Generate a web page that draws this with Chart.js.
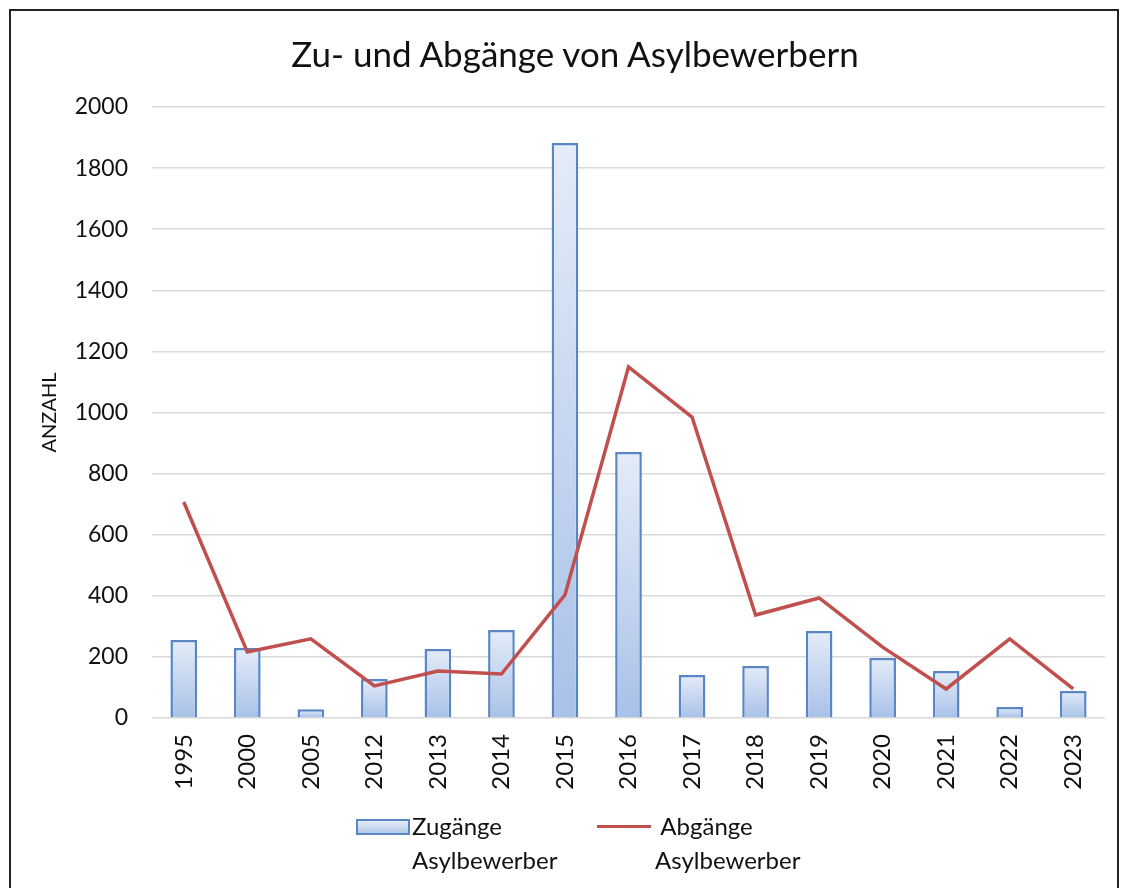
<!DOCTYPE html>
<html>
<head>
<meta charset="utf-8">
<script src="https://cdn.jsdelivr.net/npm/chart.js@4.4.1/dist/chart.umd.min.js"></script>
<style>
  body { margin: 0; background: #fff; font-family: Lato, "Open Sans", sans-serif; }
  #wrap { position: relative; width: 1131px; height: 888px; overflow: hidden; }
  #frame { position: absolute; left: 9px; top: 9px; width: 1110px; height: 900px; border: 2px solid #222; box-sizing: border-box; }
  canvas { position: absolute; left: 0; top: 0; }
  #title { position: absolute; left: 275px; width: 600px; top: 32px; text-align: center; font-size: 35px; color: #111; }
  .leg { position: absolute; font-size: 24px; color: #111; line-height: 34px; }
  .sw { position: absolute; }
</style>
</head>
<body>
<div id="wrap">
  <div id="frame"></div>
  <canvas id="c" width="1131" height="888"></canvas>
  <div id="title">Zu- und Abgänge von Asylbewerbern</div>
  <div class="sw" style="left:356px;top:819px;width:50px;height:12px;border:2px solid #5a86c6;background:linear-gradient(#e4ecf8,#b3c9ea);"></div>
  <div class="leg" style="left:412px;top:809px;">Zugänge<br>Asylbewerber</div>
  <div class="sw" style="left:597px;top:825px;width:54px;height:3px;background:#c0504d;"></div>
  <div class="leg" style="left:655px;top:809px;">&nbsp;Abgänge<br>Asylbewerber</div>
</div>
<script>
const years = ["1995", "2000", "2005", "2012", "2013", "2014", "2015", "2016", "2017", "2018", "2019", "2020", "2021", "2022", "2023"];
const zugaenge = [255, 229, 29, 128, 226, 288, 1882, 871, 141, 170, 285, 196, 154, 36, 88];
const abgaenge = [707, 216, 259, 105, 154, 144, 403, 1149, 985, 337, 393, 232, 95, 259, 95];

const ctx = document.getElementById("c").getContext("2d");

// gradient per bar: light at the top, bluer towards the baseline
function barFill(context) {
  const chart = context.chart;
  const area = chart.chartArea;
  if (!area) return "#c9d8f0";
  const y = chart.scales.y;
  const v = context.parsed ? context.parsed.y : 0;
  const top = y.getPixelForValue(v);
  const bottom = y.getPixelForValue(0);
  if (!isFinite(top) || bottom - top < 1) return "#c9d8f0";
  const g = chart.ctx.createLinearGradient(0, top, 0, bottom);
  g.addColorStop(0, "#e4ecf8");
  g.addColorStop(1, "#a9c1e8");
  return g;
}

new Chart(ctx, {
  data: {
    labels: years,
    datasets: [
      {
        type: "line",
        label: "Abgänge Asylbewerber",
        data: abgaenge,
        borderColor: "#c0504d",
        borderWidth: 3.5,
        pointRadius: 0,
        tension: 0,
        order: 0,
      },
      {
        type: "bar",
        label: "Zugänge Asylbewerber",
        data: zugaenge,
        backgroundColor: barFill,
        borderColor: "#5a86c6",
        borderWidth: 2.5,
        barPercentage: 0.42,
        categoryPercentage: 1,
        order: 1,
      },
    ],
  },
  options: {
    responsive: false,
    animation: false,
    layout: { padding: { left: 22, right: 26, top: 107, bottom: 80 } },
    plugins: {
      legend: { display: false },
      tooltip: { enabled: false },
      title: { display: false },
    },
    scales: {
      x: {
        grid: { display: false },
        border: { display: false },
        ticks: {
          color: "#111",
          font: { family: "Lato", size: 24 },
          minRotation: 90,
          maxRotation: 90,
          padding: 8,
        },
        afterFit: (s) => { s.height = 90; },
      },
      y: {
        min: 0,
        max: 2000,
        ticks: {
          stepSize: 200,
          color: "#111",
          font: { family: "Lato", size: 23 },
          padding: 24,
          callback: (v) => String(v),
        },
        grid: { color: "#d9d9d9", lineWidth: 1.5, drawTicks: false },
        border: { display: false },
        title: {
          display: true,
          text: "ANZAHL",
          color: "#111",
          font: { family: "Lato", size: 20 },
          padding: { top: 16, bottom: 0 },
        },
        afterFit: (s) => { s.width = 130; },
      },
    },
  },
});
</script>
</body>
</html>
